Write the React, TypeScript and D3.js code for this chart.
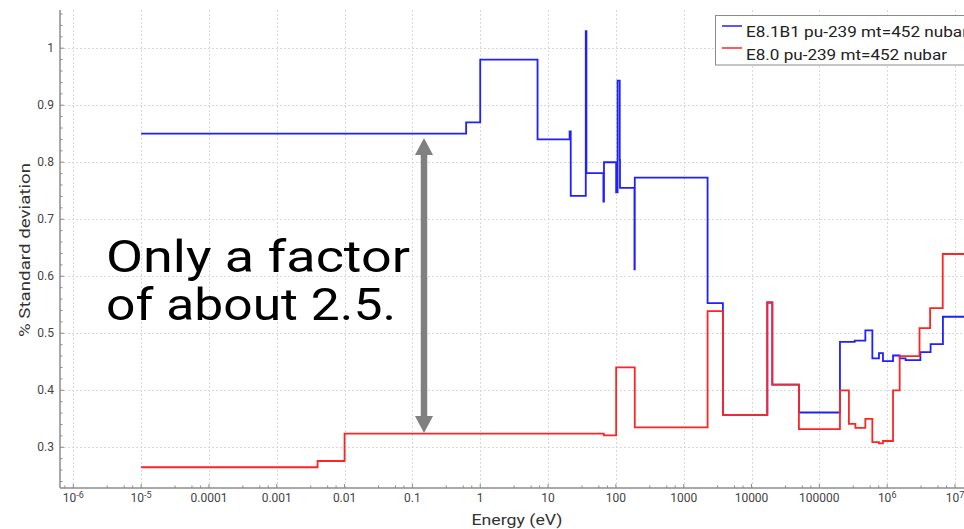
import React from 'react';
import * as d3 from 'd3';

// step series: bin lower edges (eV) and values (%), last edge closes the final bin
const blueEdges = [
  1e-5, 0.62, 1.0, 7.0, 20.8, 21.6, 36.0, 36.8, 65.5, 66.8, 101, 106, 114, 115, 188, 190,
  2250, 3785, 17100, 20270, 50000, 201400, 332000, 477000, 605000, 757000, 867000,
  1.22e6, 1.53e6, 1.87e6, 3.09e6, 4.37e6, 6.64e6, 2e7,
];
const blueValues = [
  0.85, 0.87, 0.98, 0.84, 0.854, 0.741, 1.03, 0.781, 0.731, 0.8, 0.747, 0.943, 0.804, 0.755, 0.612, 0.773,
  0.553, 0.357, 0.554, 0.41, 0.361, 0.485, 0.487, 0.505, 0.456, 0.465, 0.451,
  0.461, 0.456, 0.453, 0.467, 0.481, 0.529,
];

const redEdges = [
  1e-5, 0.004, 0.01, 66.5, 101, 190, 2250, 3785, 17100, 20270, 50000, 201400, 273000,
  340000, 477000, 605000, 757000, 867000, 1.22e6, 1.53e6, 3.0e6, 4.3e6, 6.6e6, 2e7,
];
const redValues = [
  0.265, 0.276, 0.324, 0.321, 0.44, 0.335, 0.539, 0.357, 0.554, 0.41, 0.332, 0.4, 0.341,
  0.334, 0.35, 0.309, 0.307, 0.311, 0.4, 0.46, 0.509, 0.544, 0.639,
];

const xTickLabels = [
  '10^-6', '10^-5', '0.0001', '0.001', '0.01', '0.1', '1', '10', '100', '1000', '10000', '100000', '10^6', '10^7',
];
const yTickLabels = ['0.3', '0.4', '0.5', '0.6', '0.7', '0.8', '0.9', '1'];

const seriesNames = ['E8.1B1 pu-239 mt=452 nubar', 'E8.0 pu-239 mt=452 nubar'];
const seriesColors = ['#1f1fff', '#ff2424'];

const W = 964;
const H = 529;
const left = 60;
const top = 10;
const bottom = 488;
const right = 964;
const font = 'Roboto, "DejaVu Sans", sans-serif';

const App = () => {
  const x = d3.scaleLog().domain([Math.pow(10, -6.196), Math.pow(10, 7.133)]).range([left, right]);
  const y = d3.scaleLinear().domain([0.2286, 1.067]).range([bottom, top]);

  const line = d3
    .line<[number, number]>()
    .x((d) => x(d[0]))
    .y((d) => y(d[1]))
    .curve(d3.curveStepAfter);

  const toPoints = (edges: number[], values: number[]): [number, number][] => {
    const pts: [number, number][] = values.map((v, i) => [edges[i], v]);
    pts.push([edges[edges.length - 1], values[values.length - 1]]);
    return pts;
  };

  const xTicks = xTickLabels.map((_, i) => Math.pow(10, i - 6));
  const xMinor: number[] = [];
  d3.range(-7, 8).forEach((k) => {
    [0.5, 0.75, 0.875].forEach((f) => {
      const v = Math.pow(10, k + f);
      if (x(v) > left + 2 && x(v) < right) xMinor.push(v);
    });
  });
  const yTicks = yTickLabels.map((t) => +t);
  const yMinor = d3.range(0.24, 1.061, 0.02).filter((v) => Math.abs(v * 10 - Math.round(v * 10)) > 0.01);

  const ax = 424;
  const ayTop = 138;
  const ayBot = 433;

  return (
    <svg width={W} height={H} style={{ position: 'absolute', left: 0, top: 0, background: '#fff' }}>
      <defs>
        <clipPath id="plot">
          <rect x={left} y={top} width={right - left} height={bottom - top} />
        </clipPath>
      </defs>

      {/* grid */}
      <g stroke="#d9d9d9" strokeWidth={1} strokeDasharray="2,2">
        {xTicks.map((t) => (
          <line key={'gx' + t} x1={Math.round(x(t)) + 0.5} x2={Math.round(x(t)) + 0.5} y1={top} y2={bottom} />
        ))}
        {yTicks.map((t) => (
          <line key={'gy' + t} x1={left} x2={right} y1={Math.round(y(t)) + 0.5} y2={Math.round(y(t)) + 0.5} />
        ))}
      </g>

      {/* series */}
      <g clipPath="url(#plot)" fill="none" strokeWidth={1.8}>
        <path d={line(toPoints(blueEdges, blueValues)) || ''} stroke={seriesColors[0]} />
        <path d={line(toPoints(redEdges, redValues)) || ''} stroke={seriesColors[1]} />
      </g>

      {/* axes */}
      <g stroke="#8c8c8c">
        <line x1={left} x2={left} y1={top} y2={bottom} strokeWidth={1.5} />
        <line x1={left} x2={right} y1={bottom} y2={bottom} strokeWidth={1.5} />
        {xTicks.map((t) => (
          <line key={'tx' + t} x1={x(t)} x2={x(t)} y1={bottom} y2={bottom - 4} />
        ))}
        {xMinor.map((t) => (
          <line key={'mx' + t} x1={x(t)} x2={x(t)} y1={bottom} y2={bottom - 2.5} />
        ))}
        {yTicks.map((t) => (
          <line key={'ty' + t} x1={left} x2={left + 4} y1={y(t)} y2={y(t)} />
        ))}
        {yMinor.map((t) => (
          <line key={'my' + t} x1={left} x2={left + 2.5} y1={y(t)} y2={y(t)} />
        ))}
      </g>

      {/* tick labels */}
      <g fontFamily={font} fontSize={12} fill="#444">
        {xTickLabels.map((lab, i) => {
          const parts = lab.split('^');
          return (
            <text key={'lx' + lab} x={x(xTicks[i])} y={bottom + 14} textAnchor="middle">
              {parts[0]}
              {parts[1] && (
                <tspan fontSize={9} dy={-4}>
                  {parts[1]}
                </tspan>
              )}
            </text>
          );
        })}
        {yTickLabels.map((lab, i) => (
          <text key={'ly' + lab} x={left - 6} y={y(yTicks[i])} dy="0.35em" textAnchor="end">
            {lab}
          </text>
        ))}
      </g>

      {/* axis titles */}
      <text x={517} y={525} textAnchor="middle" fontFamily={font} fontSize={15} fill="#333" textLength={91} lengthAdjust="spacingAndGlyphs">
        Energy (eV)
      </text>
      <text
        transform={`translate(30, 250) rotate(-90)`}
        textAnchor="middle"
        fontFamily={font}
        fontSize={15}
        fill="#333"
        textLength={174}
        lengthAdjust="spacingAndGlyphs"
      >
        % Standard deviation
      </text>

      {/* annotation */}
      <text x={106} y={272} fontFamily={font} fontSize={45} fill="#000" textLength={304} lengthAdjust="spacingAndGlyphs">
        Only a factor
      </text>
      <text x={106} y={320} fontFamily={font} fontSize={45} fill="#000" textLength={290} lengthAdjust="spacingAndGlyphs">
        of about 2.5.
      </text>

      {/* double arrow */}
      <g fill="#808080">
        <rect x={ax - 3.25} y={ayTop + 14} width={6.5} height={ayBot - ayTop - 28} />
        <polygon points={`${ax},${ayTop} ${ax - 9},${ayTop + 17} ${ax + 9},${ayTop + 17}`} />
        <polygon points={`${ax},${ayBot} ${ax - 9},${ayBot - 17} ${ax + 9},${ayBot - 17}`} />
      </g>

      {/* legend */}
      <g>
        <rect x={715.5} y={15.5} width={270} height={49.5} fill="#fff" stroke="#8a8a8a" />
        {seriesNames.map((name, i) => (
          <g key={name}>
            <line x1={722} x2={742} y1={26 + i * 22} y2={26 + i * 22} stroke={seriesColors[i]} strokeWidth={1.5} />
            <text
              x={746}
              y={37 + i * 23}
              fontFamily={font}
              fontSize={15}
              fill="#222"
              textLength={i === 0 ? 222 : 201}
              lengthAdjust="spacingAndGlyphs"
            >
              {name}
            </text>
          </g>
        ))}
      </g>
    </svg>
  );
};

export default App;
